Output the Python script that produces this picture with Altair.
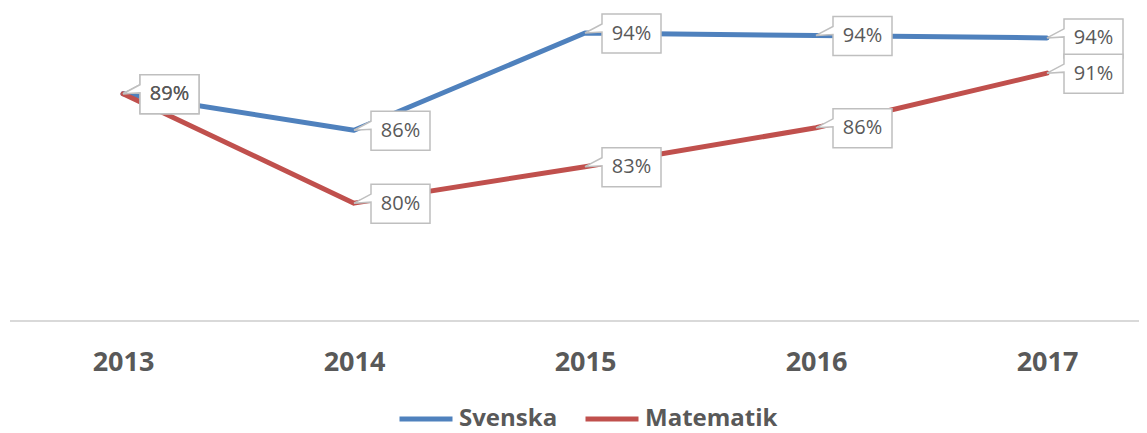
import altair as alt
import pandas as pd

years = ["2013", "2014", "2015", "2016", "2017"]
svenska = [89, 86, 94, 93.8, 93.6]
matematik = [89, 80, 83, 86.2, 90.7]
series = ["Svenska", "Matematik"]
colors = ["#4f81bd", "#c0504d"]

rows = []
for s, vals in zip(series, [svenska, matematik]):
    for yr, v in zip(years, vals):
        rows.append({"year": yr, "serie": s, "value": v})
df = pd.DataFrame(rows)

FONT = "Open Sans"
GRAY = "#595959"

x = alt.X("year:O",
          scale=alt.Scale(type="point", range=[113, 1037], padding=0),
          axis=alt.Axis(title=None, labelAngle=0, ticks=False, domain=False, grid=False,
                        labelFont=FONT, labelFontWeight="bold", labelFontSize=27,
                        labelColor=GRAY, labelPadding=28))
y = alt.Y("value:Q", scale=alt.Scale(domain=[70.3, 96.06], nice=False, zero=False), axis=None)
color = alt.Color("serie:N", scale=alt.Scale(domain=series, range=colors),
                  legend=alt.Legend(title=None, orient="none", legendX=387, legendY=382,
                                    direction="horizontal", symbolType="stroke",
                                    symbolSize=2809, symbolStrokeWidth=5,
                                    labelFont=FONT, labelFontSize=24, labelFontWeight="bold",
                                    labelColor=GRAY, labelOffset=4, columnPadding=17, padding=0))

base = alt.Chart(df).encode(x=x, y=y).transform_calculate(
    label="format(datum.value, '.0f') + '%'")

axis_line = alt.Chart(df).mark_rule(color="#d9d9d9", strokeWidth=1.5).encode(
    x=alt.value(0), x2=alt.value(1129), y=alt.value(313))

lines = base.mark_line(strokeWidth=5, strokeCap="round", strokeJoin="round").encode(
    color=color, order=alt.Order("year:O"))

CALLOUT = "M0,0 L17,-9 L17,-19 L76,-19 L76,20 L17,20 L17,-1 Z"
boxes = base.mark_point(shape=CALLOUT, size=4, filled=True, fill="white",
                        stroke="#bfbfbf", strokeWidth=1.5, opacity=1)
texts = base.mark_text(align="center", baseline="middle", dx=46.5, dy=0.5,
                       fontSize=20, font=FONT, color=GRAY).encode(text="label:N")

chart = alt.layer(axis_line, lines, boxes, texts).properties(
    width=1129, height=313,
    padding={"left": 2, "top": 0, "right": 0, "bottom": 112},
    autosize=alt.AutoSizeParams(type="none"),
    background="white",
).configure_view(stroke=None)

chart.save("out.html", embed_options={"renderer": "svg", "actions": False})
